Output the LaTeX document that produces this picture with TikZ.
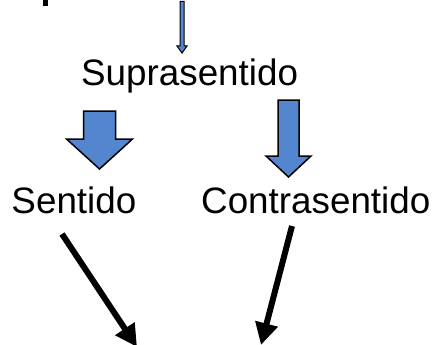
\documentclass[tikz,border=0pt]{standalone}
\usepackage{fontspec}
\setmainfont{Liberation Sans}
\usepackage{tikz}
\usetikzlibrary{arrows.meta}
\definecolor{arrowblue}{RGB}{84,134,208}
\tikzset{
	blockarrow/.style={draw=black, fill=arrowblue, line width=1.5pt, line join=miter},
	thinarrow/.style={blockarrow, line width=1pt},
	lbl/.style={inner sep=0pt, anchor=base west, font=\fontsize{36.8}{40}\selectfont},
	bigarrow/.style={line width=6pt, -{Triangle[length=22pt,width=22pt]}}
}
\def\blockdown[#1](#2,#3)(#4:#5:#6:#7){\draw[#1] ({#2-#4},#3) -- ({#2+#4},#3) -- ({#2+#4},#6) -- ({#2+#5},#6) -- (#2,#7) -- ({#2-#5},#6) -- ({#2-#4},#6) -- cycle;}

\begin{document}
\begin{tikzpicture}[x=1pt,y=-1pt]
		%%%%% START %%%%%
		\useasboundingbox (0,0) rectangle (436,345);
		\clip (0,0) rectangle (436,345);
		
		\fill[black] (43,-2) rectangle (48,6);
		
		\blockdown[thinarrow](182,1.5)(2:5:46:53);
		\node[lbl] (sup) at (81,85) {Suprasentido};
		
		\blockdown[blockarrow](99.5,111)(16:33:139:169);
		\blockdown[blockarrow](288.5,100)(10.5:22.5:156:177);
		
		\node[lbl] (sen) at (11.3,213) {Sentido};
		\node[lbl] (con) at (201,213) {Contrasentido};
		
		\coordinate (sen-out) at (62,234);
		\coordinate (con-out) at (292,226);
		\coordinate (sen-in) at (137,347);
		\coordinate (con-in) at (261,345);
		\draw[bigarrow] (sen-out) -- (sen-in);
		\draw[bigarrow] (con-out) -- (con-in);
		%%%%% END %%%%%
	\end{tikzpicture}
\end{document}
